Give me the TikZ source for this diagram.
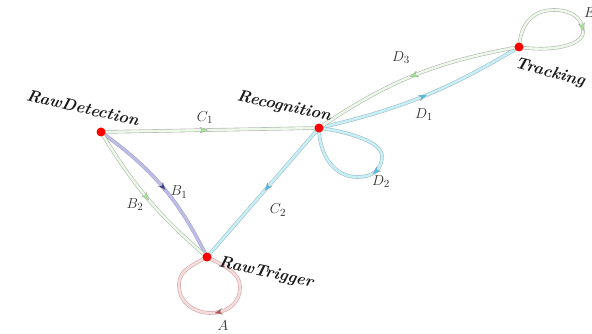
\documentclass[tikz,border=0pt]{standalone}
\usetikzlibrary{calc,decorations.markings,backgrounds}
\definecolor{gIn}{HTML}{EEF8EA}
\definecolor{gOut}{HTML}{B0B8B0}
\definecolor{cIn}{HTML}{C8EEF6}
\definecolor{cOut}{HTML}{A0C0C8}
\definecolor{pIn}{HTML}{BCBCE4}
\definecolor{pOut}{HTML}{A8A8D0}
\definecolor{rIn}{HTML}{F6DCDC}
\definecolor{rOut}{HTML}{D0A8A8}
\definecolor{aG}{HTML}{A0E890}
\definecolor{aC}{HTML}{40C0F0}
\definecolor{aP}{HTML}{383890}
\definecolor{aR}{HTML}{C05050}
\tikzset{
  dot/.style={circle, fill=red, inner sep=0pt, minimum size=9pt},
  lbl/.style={font=\bfseries\itshape\fontsize{16.5}{19}\selectfont, text=black!90, inner sep=0pt},
  elbl/.style={font=\fontsize{15}{17}\selectfont, text=black!82, inner sep=0pt},
  edgebase/.style={line width=0.6pt, double distance=2.4pt},
  greenE/.style={edgebase, draw=gOut, double=gIn},
  cyanE/.style={edgebase, draw=cOut, double=cIn},
  purpE/.style={edgebase, draw=pOut, double=pIn},
  pinkE/.style={edgebase, draw=rOut, double=rIn},
  midarrow/.style 2 args={postaction={decorate}, decoration={markings,
    mark=at position #1 with {\filldraw[fill=#2, draw=black!35, line width=0.3pt]
      (4pt,0pt) -- (-3.5pt,3pt) -- (-1.5pt,0pt) -- (-3.5pt,-3pt) -- cycle;}}}
}
\begin{document}
\begin{tikzpicture}[x=1pt,y=-1pt]
\useasboundingbox (0,0) rectangle (592,334);
% states
\node[dot] (rd)  at (101,132) {};
\node[dot] (rec) at (319,128) {};
\node[dot] (rt)  at (207,257) {};
\node[dot] (tr)  at (519,47) {};
% state names
\node[lbl, rotate=-13] (lrd)  at (83,108)  {RawDetection};
\node[lbl, rotate=-12] (lrec) at (284,107) {Recognition};
\node[lbl, rotate=-12] (lrt)  at (266,273) {RawTrigger};
\node[lbl, rotate=-15] (ltr)  at (550,73)  {Tracking};
\begin{scope}[on background layer]
% C1
\draw[greenE, midarrow={0.47}{aG}] (rd.center) -- (rec.center);
% B1
\draw[purpE, midarrow={0.5}{aP}] (rd.center) to[bend left=14] (rt.center);
% B2
\draw[greenE, midarrow={0.48}{aG}] (rd.center) to[bend right=9] (rt.center);
% C2
\draw[cyanE, midarrow={0.46}{aC}] (rec.center) -- (rt.center);
% D1
\draw[cyanE, midarrow={0.5}{aC}] (rec.center) to[bend right=9] (tr.center);
% D3
\draw[greenE, midarrow={0.5}{aG}] (tr.center) to[bend right=12] (rec.center);
% A loop
\draw[pinkE, midarrow={0.46}{aR}] (rt.center) .. controls +(18,9) and +(0,-14) .. ++(33,30)
   .. controls +(0,36) and +(0,36) .. ++(-61,-2)
   .. controls +(0,-14) and +(-18,10) .. (rt.center);
% D2 loop
\draw[cyanE, midarrow={0.5}{aC}] (rec.center) .. controls +(25,3) and +(0,-15) .. ++(63,28)
   .. controls +(0,13) and +(17,0) .. ++(-25,21)
   .. controls +(-24,0) and +(0,25) .. (rec.center);
% E loop
\draw[greenE, midarrow={0.55}{aG}] (tr.center) .. controls +(2,-25) and +(-20,0) .. ++(35,-37)
   .. controls +(17,0) and +(0,-14) .. ++(29,22)
   .. controls +(0,14) and +(30,5) .. (tr.center);
\end{scope}
% edge labels
\node[elbl] (lC1) at (205,118) {$C_1$};
\node[elbl] (lB1) at (179,192) {$B_1$};
\node[elbl] (lB2) at (135,205) {$B_2$};
\node[elbl] (lC2) at (278,210) {$C_2$};
\node[elbl] (lD3) at (401,58)  {$D_3$};
\node[elbl] (lD1) at (424,115) {$D_1$};
\node[elbl] (lD2) at (381,182) {$D_2$};
\node[elbl] (lA)  at (223,326) {$A$};
\node[elbl, anchor=west] (lE) at (584,13) {$E$};
\end{tikzpicture}
\end{document}
